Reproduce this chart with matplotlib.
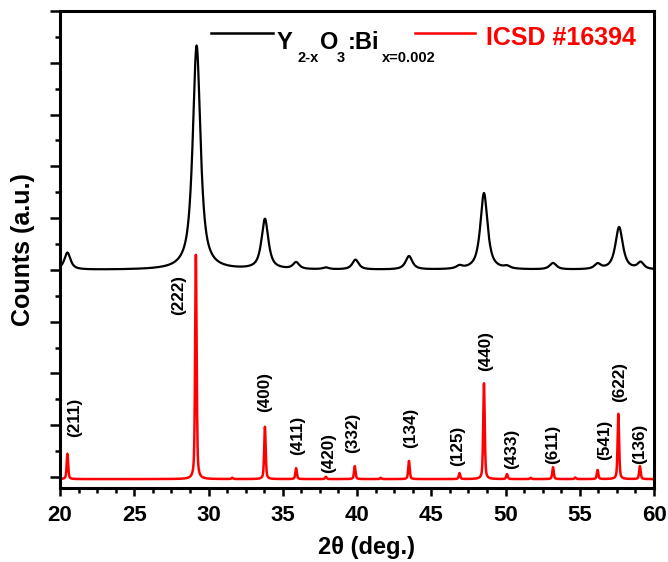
import numpy as np
import matplotlib
matplotlib.use("Agg")
import matplotlib.pyplot as plt
from matplotlib.ticker import MultipleLocator, NullFormatter
from matplotlib.lines import Line2D

plt.rcParams['font.family'] = ['Liberation Sans', 'DejaVu Sans']

# ---- data ----
# measured pattern (black): peak positions, heights above baseline, FWHM
sample_pos = [20.5, 29.2, 33.8, 35.9, 37.9, 39.9, 43.5, 46.9, 48.55, 50.1, 53.2, 56.2, 57.65, 59.1]
sample_height = [330, 4330, 970, 130, 35, 190, 260, 55, 1480, 45, 125, 100, 820, 130]
sample_fwhm = [0.50, 0.62, 0.55, 0.50, 0.50, 0.52, 0.55, 0.50, 0.58, 0.50, 0.55, 0.50, 0.60, 0.50]
sample_offset = 4000

# reference pattern ICSD #16394 (red)
ref_pos = [20.5, 29.15, 31.6, 33.8, 35.9, 37.9, 39.85, 41.6, 43.5, 46.9, 48.55, 50.1, 51.7, 53.2, 54.7, 56.2, 57.6, 59.05]
ref_height = [490, 4330, 25, 1010, 210, 45, 250, 25, 350, 115, 1850, 95, 25, 230, 30, 175, 1260, 250]
ref_fwhm = 0.12
ref_offset = -40

hkl_labels = ['(211)', '(222)', '(400)', '(411)', '(420)', '(332)', '(134)', '(125)',
              '(440)', '(433)', '(611)', '(541)', '(622)', '(136)']
hkl_x = [21.0, 28.0, 33.75, 36.0, 38.1, 39.7, 43.6, 46.8, 48.65, 50.4, 53.15, 56.7, 57.7, 59.0]
hkl_y = [772, 3127, 1255, 425, 77, 463, 560, 212, 2046, 154, 251, 328, 1448, 251]

xticks = [20, 25, 30, 35, 40, 45, 50, 55, 60]

# legend label pieces: (text, is_subscript)
legend_pieces = [('Y', False), ('2-x', True), ('O', False), ('3', True), (':Bi', False), ('x=0.002', True)]
legend_ref = 'ICSD #16394'


def profile(x, pos, height, fwhm, eta):
    y = np.zeros_like(x)
    for p, h, w in zip(pos, height, fwhm):
        g = np.exp(-4 * np.log(2) * ((x - p) / w) ** 2)
        l = 1.0 / (1.0 + 4 * ((x - p) / w) ** 2)
        y += h * (eta * l + (1 - eta) * g)
    return y


x = np.linspace(20, 60, 8001)
y_sample = sample_offset + profile(x, sample_pos, sample_height, sample_fwhm, 0.85)
y_ref = ref_offset + profile(x, ref_pos, ref_height, [ref_fwhm] * len(ref_pos), 0.5)

fig = plt.figure(figsize=(6.68, 5.62), dpi=100)
ax = fig.add_axes([60 / 668, 1 - 488 / 562, 594 / 668, 477 / 562])

ax.plot(x, y_sample, color='black', lw=1.6)
ax.plot(x, y_ref, color='red', lw=1.8)

for lab, lx, ly in zip(hkl_labels, hkl_x, hkl_y):
    ax.text(lx, ly, lab, rotation=90, ha='center', va='bottom', fontsize=12.3,
            fontweight='bold', color='black')

ax.set_xlim(20, 60)
ax.set_ylim(-212, 9000)
ax.set_xticks(xticks)
ax.xaxis.set_minor_locator(MultipleLocator(1.25))
ax.yaxis.set_major_locator(MultipleLocator(1000))
ax.yaxis.set_minor_locator(MultipleLocator(500))
ax.yaxis.set_major_formatter(NullFormatter())
ax.tick_params(axis='both', which='both', direction='out', width=1.8, top=False, right=False)
ax.tick_params(axis='y', which='major', length=7.5)
ax.tick_params(axis='y', which='minor', length=3.5)
ax.tick_params(axis='x', which='major', length=6, pad=6)
ax.tick_params(axis='x', which='minor', length=3.5)
for lbl in ax.get_xticklabels():
    lbl.set_fontsize(16)
    lbl.set_fontweight('bold')
for s in ax.spines.values():
    s.set_linewidth(2.2)

W, H = 594, 477
def ax_xy(px, py):
    return (px - 60) / W, (488 - py) / H

ax.set_xlabel('2θ (deg.)', fontsize=17, fontweight='bold')
ax.xaxis.set_label_coords(*ax_xy(366, 536))
ax.set_ylabel('Counts (a.u.)', fontsize=18, fontweight='bold')
ax.yaxis.set_label_coords(*ax_xy(11, 250))
ax.yaxis.label.set_verticalalignment('top')

# legend (manual layout)
x0, yy = ax_xy(211, 33); x1, _ = ax_xy(273, 33)
ax.add_line(Line2D([x0, x1], [yy, yy], color='black', lw=1.8, transform=ax.transAxes))
piece_x = [277, 297, 320, 337, 348, 382]
for (txt, sub), px in zip(legend_pieces, piece_x):
    py = 62 if sub else 49
    tx, ty = ax_xy(px, py)
    ax.text(tx, ty, txt, transform=ax.transAxes, fontsize=10.5 if sub else 17,
            fontweight='bold', ha='left', va='baseline')

x0, yy = ax_xy(415, 33); x1, _ = ax_xy(475, 33)
ax.add_line(Line2D([x0, x1], [yy, yy], color='red', lw=1.8, transform=ax.transAxes))
tx, ty = ax_xy(486, 45)
ax.text(tx, ty, legend_ref, transform=ax.transAxes, fontsize=18, fontweight='bold',
        color='red', ha='left', va='baseline')

fig.savefig('out.png', dpi=100)
